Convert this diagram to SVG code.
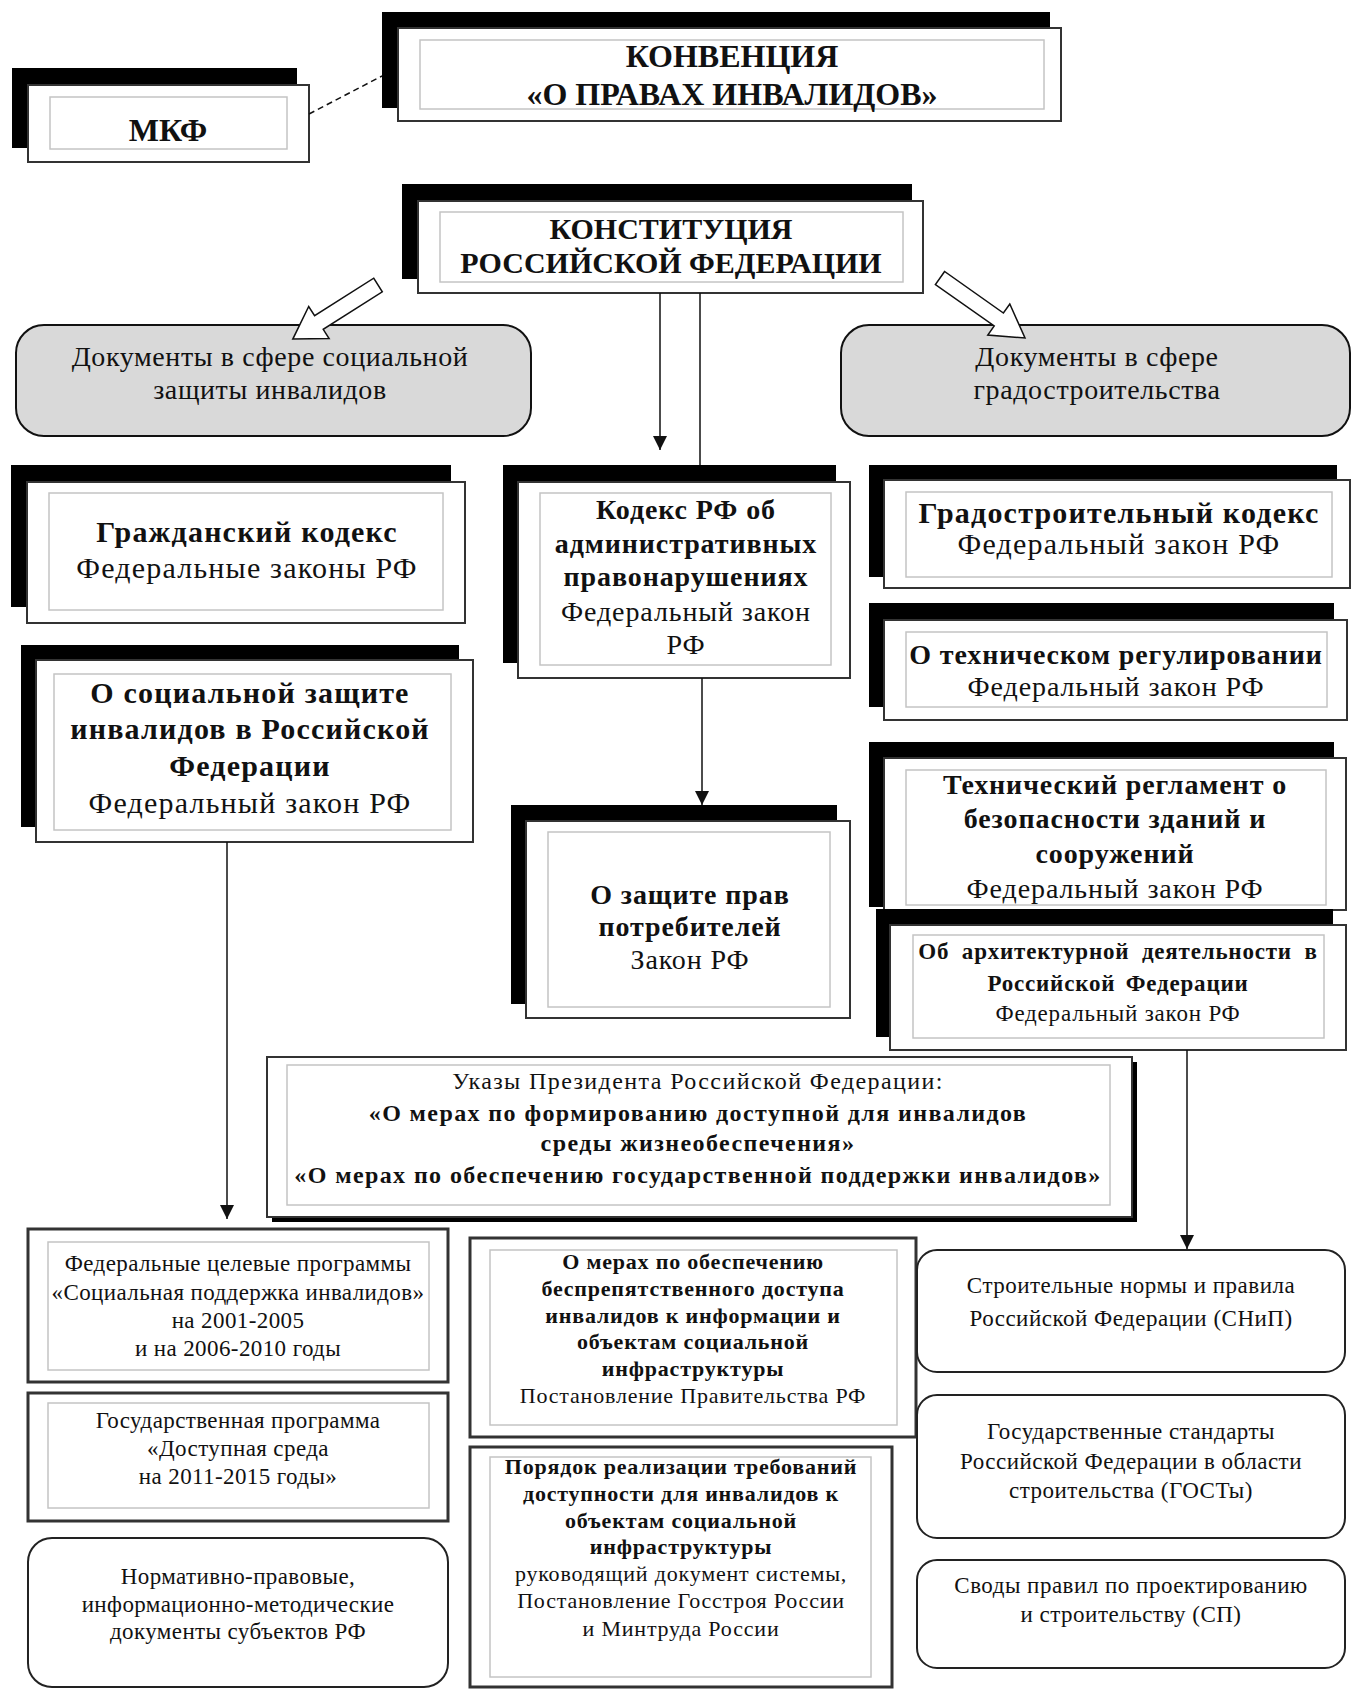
<svg xmlns="http://www.w3.org/2000/svg" width="1353" height="1689" viewBox="0 0 1353 1689">
<defs>
<style>
.sh{fill:#000}
.card{fill:#fff;stroke:#333;stroke-width:2}
.in{fill:none;stroke:#c4c4c4;stroke-width:1.5}
.frame{fill:#fff;stroke:#333;stroke-width:3}
.round{fill:#fff;stroke:#222;stroke-width:2}
.gray{fill:#d9d9d9;stroke:#111;stroke-width:2}
.t{font-family:"Liberation Serif","Times New Roman",serif;text-anchor:middle;fill:#111}
.b{font-weight:bold}
.h1{font-size:32px}
.h2{font-size:30px}
.g{font-size:28px;letter-spacing:0.6px}
.m{font-size:30px;letter-spacing:1.2px}
.k{font-size:28px;letter-spacing:0.9px}
.gk{font-size:30px;letter-spacing:1.2px}
.ar{font-size:23px;letter-spacing:0.8px}
.uk{font-size:24px;letter-spacing:1.4px}
.sm{font-size:23px;letter-spacing:0.4px}
.mid{font-size:22px;letter-spacing:0.8px}
.rt{font-size:23px;letter-spacing:0.5px}
.ln{fill:none;stroke:#111;stroke-width:1.5}
.hollow{fill:#fff;stroke:#111;stroke-width:1.5}
</style>
<marker id="ah2" viewBox="0 0 10 10" refX="10" refY="5" markerWidth="14" markerHeight="14" markerUnits="userSpaceOnUse" orient="auto">
<path d="M0,0 L10,5 L0,10 z" fill="#111"/>
</marker>
</defs>
<rect width="1353" height="1689" fill="#fff"/>

<g id="konvenciya">
<rect class="sh" x="382" y="12" width="668" height="96"/>
<rect class="card" x="398" y="28" width="663" height="93"/>
<rect class="in" x="420" y="40" width="624" height="69"/>
<text class="t b h1" x="732" y="67">КОНВЕНЦИЯ</text>
<text class="t b h1" x="732" y="105">«О ПРАВАХ ИНВАЛИДОВ»</text>
</g>

<g id="mkf">
<rect class="sh" x="12" y="68" width="285" height="80"/>
<rect class="card" x="28" y="85" width="281" height="77"/>
<rect class="in" x="50" y="97" width="237" height="52"/>
<text class="t b h1" x="168" y="141">МКФ</text>
</g>

<g id="konstituciya">
<rect class="sh" x="402" y="184" width="510" height="95"/>
<rect class="card" x="418" y="201" width="505" height="92"/>
<rect class="in" x="440" y="212" width="463" height="70"/>
<text class="t b h2" x="671" y="239">КОНСТИТУЦИЯ</text>
<text class="t b h2" x="671" y="273">РОССИЙСКОЙ ФЕДЕРАЦИИ</text>
</g>

<g id="docs-social">
<rect class="gray" x="16" y="325" width="515" height="111" rx="28"/>
<text class="t g" x="270" y="366">Документы в сфере социальной</text>
<text class="t g" x="270" y="399">защиты инвалидов</text>
</g>

<g id="docs-grad">
<rect class="gray" x="841" y="325" width="509" height="111" rx="28"/>
<text class="t g" x="1097" y="366">Документы в сфере</text>
<text class="t g" x="1097" y="399">градостроительства</text>
</g>

<g id="grazhdansky">
<rect class="sh" x="11" y="465" width="440" height="142"/>
<rect class="card" x="27" y="482" width="438" height="141"/>
<rect class="in" x="49" y="493" width="394" height="117"/>
<text class="t b m" x="247" y="542">Гражданский кодекс</text>
<text class="t m" x="247" y="578">Федеральные законы РФ</text>
</g>

<g id="soc-zashita">
<rect class="sh" x="21" y="645" width="438" height="182"/>
<rect class="card" x="36" y="660" width="437" height="182"/>
<rect class="in" x="54" y="674" width="397" height="156"/>
<text class="t b m" x="250" y="703">О социальной защите</text>
<text class="t b m" x="250" y="739">инвалидов в Российской</text>
<text class="t b m" x="250" y="776">Федерации</text>
<text class="t m" x="250" y="813">Федеральный закон РФ</text>
</g>

<g id="koap">
<rect class="sh" x="503" y="465" width="333" height="198"/>
<rect class="card" x="518" y="482" width="332" height="196"/>
<rect class="in" x="540" y="493" width="291" height="172"/>
<text class="t b k" x="686" y="519">Кодекс РФ об</text>
<text class="t b k" x="686" y="553">административных</text>
<text class="t b k" x="686" y="586">правонарушениях</text>
<text class="t k" x="686" y="621">Федеральный закон</text>
<text class="t k" x="686" y="654">РФ</text>
</g>

<g id="zpp">
<rect class="sh" x="511" y="805" width="326" height="199"/>
<rect class="card" x="526" y="821" width="324" height="197"/>
<rect class="in" x="548" y="832" width="282" height="175"/>
<text class="t b k" x="690" y="904">О защите прав</text>
<text class="t b k" x="690" y="936">потребителей</text>
<text class="t k" x="690" y="969">Закон РФ</text>
</g>

<g id="gradkodeks">
<rect class="sh" x="869" y="465" width="468" height="112"/>
<rect class="card" x="884" y="480" width="466" height="108"/>
<rect class="in" x="906" y="492" width="426" height="85"/>
<text class="t b gk" x="1119" y="523">Градостроительный кодекс</text>
<text class="t gk" x="1119" y="554">Федеральный закон РФ</text>
</g>

<g id="tehreg">
<rect class="sh" x="869" y="603" width="465" height="104"/>
<rect class="card" x="884" y="620" width="463" height="100"/>
<rect class="in" x="906" y="632" width="421" height="75"/>
<text class="t b k" x="1116" y="664">О техническом регулировании</text>
<text class="t k" x="1116" y="696">Федеральный закон РФ</text>
</g>

<g id="tehreglament">
<rect class="sh" x="869" y="742" width="465" height="165"/>
<rect class="card" x="884" y="758" width="462" height="152"/>
<rect class="in" x="906" y="770" width="420" height="135"/>
<text class="t b k" x="1115" y="794">Технический регламент о</text>
<text class="t b k" x="1115" y="828">безопасности зданий и</text>
<text class="t b k" x="1115" y="863">сооружений</text>
<text class="t k" x="1115" y="898">Федеральный закон РФ</text>
</g>

<g id="arhitekt">
<rect class="sh" x="876" y="909" width="457" height="128"/>
<rect class="card" x="890" y="925" width="456" height="125"/>
<rect class="in" x="913" y="935" width="411" height="103"/>
<text class="t b ar" x="1118" y="959" word-spacing="6">Об архитектурной деятельности в</text>
<text class="t b ar" x="1118" y="991" word-spacing="4">Российской Федерации</text>
<text class="t ar" x="1118" y="1021">Федеральный закон РФ</text>
</g>

<g id="ukazy">
<rect class="sh" x="272" y="1062" width="865" height="160"/>
<rect class="card" x="267" y="1057" width="865" height="160"/>
<rect class="in" x="287" y="1065" width="823" height="140"/>
<text class="t uk" x="698" y="1089">Указы Президента Российской Федерации:</text>
<text class="t b uk" x="698" y="1121">«О мерах по формированию доступной для инвалидов</text>
<text class="t b uk" x="698" y="1151">среды жизнеобеспечения»</text>
<text class="t b uk" x="698" y="1183">«О мерах по обеспечению государственной поддержки инвалидов»</text>
</g>

<g id="fcp">
<rect class="frame" x="28" y="1229" width="420" height="153"/>
<rect class="in" x="48" y="1242" width="381" height="128"/>
<text class="t sm" x="238" y="1271">Федеральные целевые программы</text>
<text class="t sm" x="238" y="1300">«Социальная  поддержка инвалидов»</text>
<text class="t sm" x="238" y="1328">на 2001-2005</text>
<text class="t sm" x="238" y="1356">и на 2006-2010 годы</text>
</g>

<g id="gosprog">
<rect class="frame" x="28" y="1393" width="420" height="128"/>
<rect class="in" x="48" y="1403" width="381" height="105"/>
<text class="t sm" x="238" y="1428">Государственная программа</text>
<text class="t sm" x="238" y="1456">«Доступная среда</text>
<text class="t sm" x="238" y="1484">на 2011-2015 годы»</text>
</g>

<g id="normativ">
<rect class="round" x="28" y="1538" width="420" height="149" rx="24"/>
<text class="t sm" x="238" y="1584">Нормативно-правовые,</text>
<text class="t sm" x="238" y="1612">информационно-методические</text>
<text class="t sm" x="238" y="1639">документы субъектов РФ</text>
</g>

<g id="o-merah">
<rect class="frame" x="470" y="1238" width="446" height="199"/>
<rect class="in" x="490" y="1250" width="407" height="175"/>
<text class="t b mid" x="693" y="1269">О мерах по обеспечению</text>
<text class="t b mid" x="693" y="1296">беспрепятственного доступа</text>
<text class="t b mid" x="693" y="1323">инвалидов к информации и</text>
<text class="t b mid" x="693" y="1349">объектам социальной</text>
<text class="t b mid" x="693" y="1376">инфраструктуры</text>
<text class="t mid" x="693" y="1403">Постановление Правительства РФ</text>
</g>

<g id="poryadok">
<rect class="frame" x="470" y="1447" width="422" height="240"/>
<rect class="in" x="490" y="1457" width="381" height="220"/>
<text class="t b mid" x="681" y="1474">Порядок реализации требований</text>
<text class="t b mid" x="681" y="1501">доступности для инвалидов к</text>
<text class="t b mid" x="681" y="1528">объектам социальной</text>
<text class="t b mid" x="681" y="1554">инфраструктуры</text>
<text class="t mid" x="681" y="1581">руководящий документ  системы,</text>
<text class="t mid" x="681" y="1608">Постановление Госстроя России</text>
<text class="t mid" x="681" y="1636">и Минтруда России</text>
</g>

<g id="snip">
<rect class="round" x="917" y="1250" width="428" height="122" rx="20"/>
<text class="t rt" x="1131" y="1293">Строительные нормы и правила</text>
<text class="t rt" x="1131" y="1326">Российской Федерации (СНиП)</text>
</g>

<g id="gost">
<rect class="round" x="917" y="1395" width="428" height="143" rx="20"/>
<text class="t rt" x="1131" y="1439">Государственные стандарты</text>
<text class="t rt" x="1131" y="1469">Российской Федерации в области</text>
<text class="t rt" x="1131" y="1498">строительства (ГОСТы)</text>
</g>

<g id="sp">
<rect class="round" x="917" y="1560" width="428" height="108" rx="20"/>
<text class="t rt" x="1131" y="1593">Своды правил по проектированию</text>
<text class="t rt" x="1131" y="1622">и строительству (СП)</text>
</g>

<g id="connectors">
<line class="ln" x1="309" y1="114" x2="382" y2="76" stroke-dasharray="6 4"/>
<line class="ln" x1="660" y1="293" x2="660" y2="450" marker-end="url(#ah2)"/>
<line class="ln" x1="700" y1="293" x2="700" y2="465"/>
<line class="ln" x1="702" y1="678" x2="702" y2="805" marker-end="url(#ah2)"/>
<line class="ln" x1="227" y1="842" x2="227" y2="1219" marker-end="url(#ah2)"/>
<line class="ln" x1="1187" y1="1050" x2="1187" y2="1249" marker-end="url(#ah2)"/>
<polygon class="hollow" points="373.7,278.2 382.3,291.8 323.2,329.3 329.1,338.5 292.8,339.1 308.7,306.5 314.6,315.7"/>
<polygon class="hollow" points="944.6,271.5 935.4,284.5 994.2,326.0 987.8,335.0 1025,338 1009.8,304.0 1003.4,313.0"/>
</g>
</svg>
